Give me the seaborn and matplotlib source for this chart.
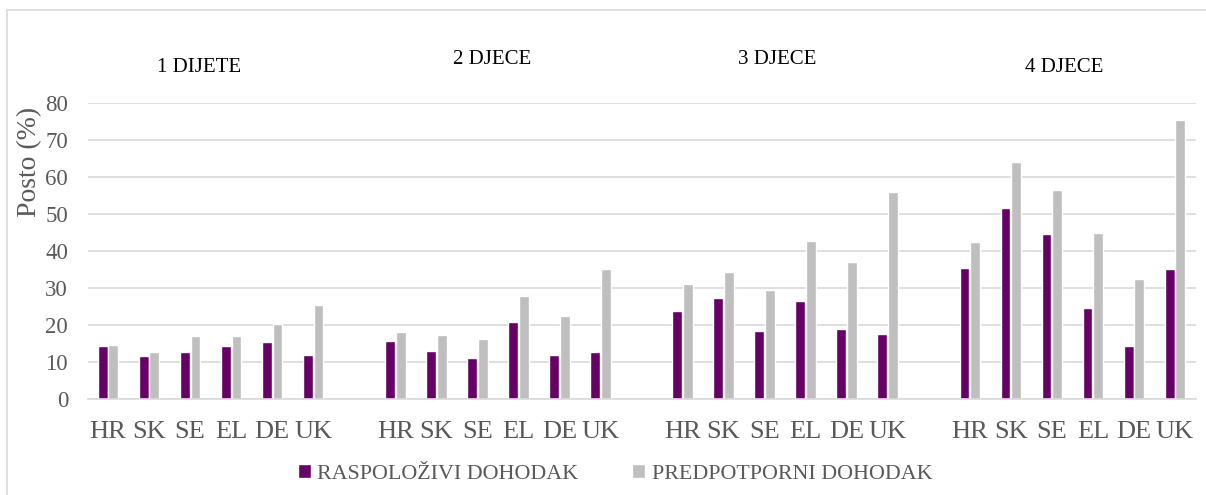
import pandas as pd
import matplotlib.pyplot as plt
import seaborn as sns
from matplotlib.lines import Line2D

# Podaci očitani sa slike
countries = ["HR", "SK", "SE", "EL", "DE", "UK"]
groups = ["1 DIJETE", "2 DJECE", "3 DJECE", "4 DJECE"]
series = ["RASPOLOŽIVI DOHODAK", "PREDPOTPORNI DOHODAK"]

raspolozivi_1 = [14.2, 11.6, 12.7, 14.2, 15.4, 12.0]
raspolozivi_2 = [15.8, 13.1, 11.2, 20.7, 12.0, 12.7]
raspolozivi_3 = [23.8, 27.2, 18.5, 26.5, 18.8, 17.7]
raspolozivi_4 = [35.5, 51.6, 44.7, 24.5, 14.2, 35.2]

predpotporni_1 = [14.7, 12.7, 16.9, 16.9, 20.4, 25.3]
predpotporni_2 = [18.0, 17.3, 16.1, 27.9, 22.3, 35.2]
predpotporni_3 = [31.0, 34.4, 29.5, 42.8, 37.0, 56.0]
predpotporni_4 = [42.4, 64.1, 56.5, 45.0, 32.5, 75.5]

raspolozivi = [raspolozivi_1, raspolozivi_2, raspolozivi_3, raspolozivi_4]
predpotporni = [predpotporni_1, predpotporni_2, predpotporni_3, predpotporni_4]

PURPLE = "#660066"
GRAY = "#BFBFBF"
TEXT = "#595959"


def build_frame():
    rows = []
    order = []
    labels = []
    for g, grp in enumerate(groups):
        for c, country in enumerate(countries):
            slot = f"{g}-{country}"
            order.append(slot)
            labels.append(country)
            rows.append({"slot": slot, "serija": series[0], "vrijednost": raspolozivi[g][c]})
            rows.append({"slot": slot, "serija": series[1], "vrijednost": predpotporni[g][c]})
        if g < len(groups) - 1:
            # prazno mjesto između skupina
            order.append(f"gap{g}")
            labels.append("")
    return pd.DataFrame(rows), order, labels


def plot():
    df, order, labels = build_frame()

    sns.set_style("white")
    plt.rcParams["font.family"] = ["Liberation Serif", "DejaVu Serif"]

    fig = plt.figure(figsize=(12.06, 4.95), dpi=100)
    W, H = 1206, 495
    ax = fig.add_axes([87.5 / W, (H - 399) / H, (1195.5 - 87.5) / W, (399 - 103) / H])

    sns.barplot(data=df, x="slot", y="vrijednost", hue="serija", order=order,
                hue_order=series, palette=[PURPLE, GRAY], width=0.52, gap=0.08,
                saturation=1, ax=ax)

    ax.set_ylim(0, 80)
    ax.set_xlim(-0.5, len(order) - 0.5)
    ax.set_yticks(range(0, 81, 10))
    ax.yaxis.grid(True, color="#D9D9D9", linewidth=1.2)
    ax.set_axisbelow(True)
    for side in ["top", "right", "left"]:
        ax.spines[side].set_visible(False)
    ax.spines["bottom"].set_color("#D9D9D9")
    ax.spines["bottom"].set_linewidth(1.2)

    ax.set_xticks(range(len(order)))
    ax.set_xticklabels(labels)
    ax.tick_params(axis="x", length=0, pad=16, labelsize=19, labelcolor=TEXT)
    ax.tick_params(axis="y", length=0, pad=14, labelsize=16.5, labelcolor=TEXT)
    ax.set_xlabel("")
    ax.set_ylabel("Posto (%)", fontsize=20, color=TEXT)
    ax.yaxis.set_label_coords(-0.041, 0.80)

    # naslovi skupina
    title_pos = [(199, 67), (492, 60), (777, 59), (1064, 67)]
    for grp, (x, y) in zip(groups, title_pos):
        fig.text(x / W, 1 - y / H, grp, ha="center", va="center", fontsize=15, color="black")

    sns.move_legend(ax, "center", bbox_to_anchor=(0.51, 1 - 474 / H),
                    bbox_transform=fig.transFigure, ncol=2, frameon=False, title=None,
                    fontsize=15.8, handlelength=0.6, handleheight=0.6, handletextpad=0.3,
                    columnspacing=2.45, labelcolor=TEXT)

    # okvir grafikona
    fig.add_artist(Line2D([7 / W, 7 / W], [0, 1 - 10 / H], transform=fig.transFigure,
                          color="#D9D9D9", linewidth=1.2))
    fig.add_artist(Line2D([7 / W, 1], [1 - 10 / H, 1 - 10 / H], transform=fig.transFigure,
                          color="#D9D9D9", linewidth=1.2))

    fig.savefig("out.png", dpi=100)


if __name__ == "__main__":
    plot()
